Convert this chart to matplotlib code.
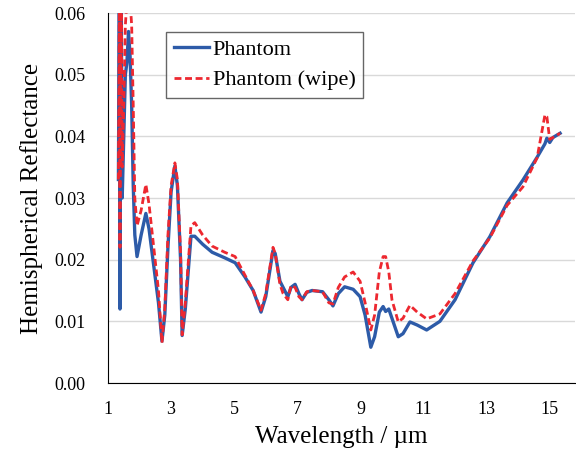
import matplotlib
matplotlib.use("Agg")
import matplotlib.pyplot as plt

plt.rcParams['font.family'] = ['Liberation Serif', 'DejaVu Serif']

# wavelength in um
wavelength = [1.33, 1.36, 1.38, 1.40, 1.42, 1.45, 1.50, 1.55, 1.60, 1.65, 1.70, 1.75,
              1.80, 1.85, 1.92, 2.05, 2.2, 2.3, 2.45, 2.6, 2.71, 2.8, 2.9, 3.0,
              3.12, 3.2, 3.3, 3.35, 3.45, 3.63, 3.75, 4.0, 4.3, 4.7, 5.03, 5.34,
              5.6, 5.85, 6.0, 6.23, 6.3, 6.45, 6.55, 6.7, 6.8, 6.93, 7.05, 7.15,
              7.3, 7.47, 7.8, 8.0, 8.13, 8.3, 8.5, 8.77, 8.99, 9.15, 9.33, 9.45,
              9.6, 9.72, 9.8, 9.9, 10.0, 10.2, 10.35, 10.57, 10.8, 11.1, 11.52, 12.0,
              12.57, 13.1, 13.65, 14.15, 14.6, 14.85, 14.91, 15.0, 15.1, 15.33]

phantom = [0.033, 0.062, 0.012, 0.045, 0.062, 0.030, 0.040, 0.050, 0.052, 0.057, 0.053, 0.045,
           0.032, 0.024, 0.0205, 0.024, 0.0275, 0.025, 0.019, 0.013, 0.0068, 0.011, 0.022, 0.031,
           0.0352, 0.032, 0.020, 0.0077, 0.012, 0.0238, 0.0238, 0.0225, 0.0212, 0.0203, 0.0195, 0.0172,
           0.015, 0.0115, 0.014, 0.0215, 0.021, 0.0165, 0.0155, 0.014, 0.0155, 0.016, 0.0145, 0.0135,
           0.0147, 0.015, 0.0148, 0.0135, 0.0125, 0.0145, 0.0156, 0.0152, 0.014, 0.011, 0.0058, 0.0075,
           0.0115, 0.0124, 0.0116, 0.012, 0.0105, 0.0075, 0.008, 0.0099, 0.0094, 0.0086, 0.0100, 0.0135,
           0.0195, 0.0237, 0.0292, 0.0329, 0.0366, 0.0388, 0.0397, 0.039, 0.0398, 0.0405]

phantom_wipe = [0.033, 0.062, 0.022, 0.050, 0.062, 0.035, 0.045, 0.058, 0.062, 0.062, 0.062, 0.058,
                0.045, 0.030, 0.0255, 0.028, 0.0322, 0.029, 0.022, 0.015, 0.0065, 0.012, 0.024, 0.032,
                0.0357, 0.033, 0.021, 0.0078, 0.013, 0.0255, 0.026, 0.024, 0.0222, 0.0212, 0.0205, 0.0175,
                0.015, 0.0118, 0.0145, 0.022, 0.021, 0.016, 0.0145, 0.0135, 0.0158, 0.0155, 0.014, 0.0135,
                0.0148, 0.015, 0.0148, 0.013, 0.0128, 0.0155, 0.0172, 0.018, 0.0165, 0.013, 0.0086, 0.011,
                0.018, 0.0205, 0.0205, 0.018, 0.0135, 0.0099, 0.0105, 0.0126, 0.0115, 0.0104, 0.0112, 0.0145,
                0.0198, 0.0235, 0.0288, 0.0318, 0.0365, 0.0435, 0.0432, 0.0395, 0.0398, 0.0405]

fig = plt.figure(figsize=(5.76, 4.5), dpi=100)
ax = fig.add_axes([108/576, 1 - 383/450, (575 - 108)/576, 370/450])

ax.plot(wavelength, phantom, color='#2D5BA8', lw=2.4, label='Phantom')
ax.plot(wavelength, phantom_wipe, color='#ED2830', lw=2.0, ls=(0, (2.5, 1.3)), label='Phantom (wipe)')

ax.set_xlim(1, 1 + (575 - 108)/31.55)
ax.set_ylim(0, 0.06)
ax.set_xticks([1, 3, 5, 7, 9, 11, 13, 15])
ax.set_yticks([0, 0.01, 0.02, 0.03, 0.04, 0.05, 0.06])
ax.set_yticklabels(['%.2f' % v for v in ax.get_yticks()])
ax.yaxis.grid(True, color='#D9D9D9', lw=1)
ax.set_axisbelow(True)
for s in ['top', 'right']:
    ax.spines[s].set_visible(False)
ax.spines['left'].set_color('black')
ax.spines['bottom'].set_color('black')
ax.tick_params(length=0, labelsize=13)
ax.tick_params(axis='y', pad=16)
ax.tick_params(axis='x', pad=13)

ax.set_xlabel('Wavelength / µm', fontsize=18, labelpad=6)
ax.set_ylabel('Hemispherical Reflectance', fontsize=18, labelpad=8)

leg = ax.legend(loc='upper left', bbox_to_anchor=(0.124, 0.95), borderaxespad=0, fontsize=16,
                frameon=True, fancybox=False, edgecolor='#404040', handlelength=1.6,
                borderpad=0.35, labelspacing=0.45, handletextpad=0.15)
leg.get_frame().set_linewidth(1.0)

fig.savefig('out.png', dpi=100)
